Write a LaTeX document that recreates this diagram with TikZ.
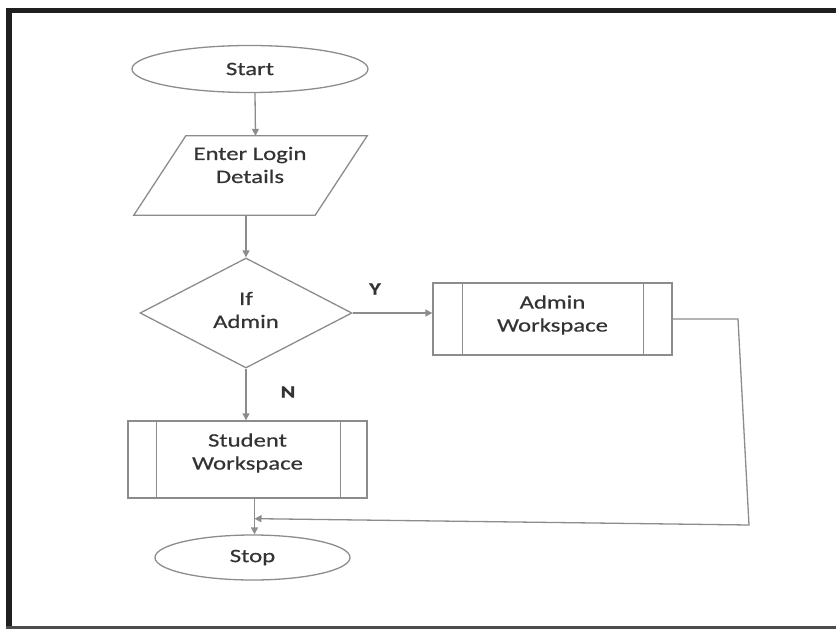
\documentclass[tikz,border=0pt]{standalone}
\usepackage{fontspec}
\setmainfont{Carlito}[FakeStretch=1.3,FakeBold=0.6]
\usetikzlibrary{shapes.geometric,arrows.meta,calc}
\definecolor{ln}{HTML}{8C8C8C}
\definecolor{tx}{HTML}{333333}
\begin{document}
\begin{tikzpicture}[x=1pt,y=-1pt,
  txt/.style={font=\fontsize{19}{23}\selectfont, text=tx, align=center, inner sep=0pt},
  shp/.style={draw=ln, line width=1.3pt, inner sep=0pt},
  term/.style={shp, ellipse},
  proc/.style={shp, rectangle},
  conn/.style={draw=ln, line width=1.3pt, -{Triangle[width=7pt,length=7pt]}},
  lbl/.style={font=\fontsize{17}{19}\selectfont\bfseries, text=tx, inner sep=0pt}]
\useasboundingbox (0,0) rectangle (836,629);
% frame
\fill[black!88] (6,8) rectangle (836,13);
\fill[black!88] (6,8) rectangle (12,629);
\fill[black!70] (6,626) rectangle (836,629);
% nodes
\node[term, minimum width=236pt, minimum height=47pt] (start) at (250,69) {};
\node[txt] (starttxt) at (start.center) {Start};
\node[inner sep=0pt, minimum width=181pt, minimum height=79pt] (input) at (250.5,175.5) {};
\draw[ln, line width=1.3pt, line join=miter]
  ($(input.north west)+(26,0)$) -- ($(input.north east)+(26,0)$)
  -- ($(input.south east)+(-26,0)$) -- ($(input.south west)+(-26,0)$) -- cycle;
\node[txt] (inputtxt) at (250,165) {Enter Login\\Details};
\node[shp, diamond, minimum width=212pt, minimum height=110pt] (dec) at (246,313) {};
\node[txt] (dectxt) at (246,310) {If\\Admin};
\node[proc, minimum width=239pt, minimum height=72pt] (admin) at (552.5,319) {};
\node[txt] (admintxt) at (552.5,315) {Admin\\Workspace};
\node[proc, minimum width=239pt, minimum height=77pt] (student) at (247.5,459.5) {};
\node[txt] (studenttxt) at (247.5,453) {Student\\Workspace};
\node[term, minimum width=195pt, minimum height=45pt] (stop) at (252.5,557.5) {};
\node[txt] (stoptxt) at (stop.center) {Stop};
% inner bars of predefined processes
\draw[ln, line width=1.3pt] ($(admin.north west)+(30,0)$) -- ($(admin.south west)+(30,0)$);
\draw[ln, line width=1.3pt] ($(admin.north east)+(-29,0)$) -- ($(admin.south east)+(-29,0)$);
\draw[ln, line width=1.3pt] ($(student.north west)+(29,0)$) -- ($(student.south west)+(29,0)$);
\draw[ln, line width=1.3pt] ($(student.north east)+(-27,0)$) -- ($(student.south east)+(-27,0)$);
% connectors
\draw[conn] ($(start.south)+(5,0)$) -- ($(input.north)+(5,0)$);
\draw[conn] ($(input.south)+(-4.5,0)$) -- (dec.north);
\draw[conn] (dec.east) -- (dec.east -| admin.west);
\draw[conn] (dec.south) -- (dec.south |- student.north);
\coordinate (m) at ($(student.south)+(7,20)$);
\draw[ln, line width=1.3pt] ($(student.south)+(7,0)$) -- (m);
\draw[conn] (m) -- (m |- stop.north);
\coordinate (c1) at (admin.east -| 738,0);
\coordinate (c2) at (749,525);
\draw[conn] (admin.east) -- (c1) -- (c2) -- (m);
% labels
\node[lbl] (ylbl) at (375,289) {Y};
\node[lbl] (nlbl) at (288,392) {N};
\end{tikzpicture}
\end{document}
